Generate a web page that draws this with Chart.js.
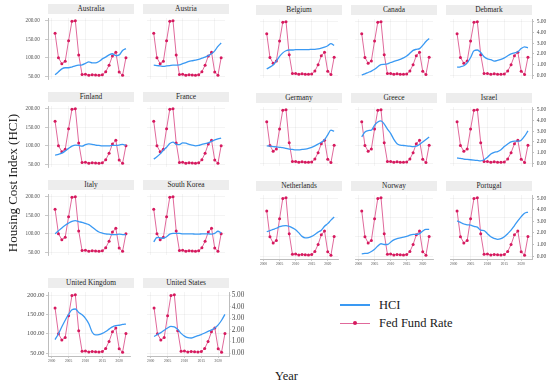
<!DOCTYPE html>
<html>
<head>
<meta charset="utf-8">
<script src="https://cdn.jsdelivr.net/npm/chart.js@4.4.1/dist/chart.umd.min.js"></script>
<style>
  html, body { margin:0; padding:0; background:#ffffff; }
  body { width:550px; height:387px; overflow:hidden; position:relative;
         font-family:'Liberation Serif','Times New Roman',serif; color:#1a1a1a; }
  canvas { position:absolute; }
  .strip { position:absolute; background:#ededed; color:#262626; font-size:7.4px; font-weight:normal;
           line-height:10px; height:10px; text-align:center; white-space:nowrap; overflow:hidden; }
  .txt { position:absolute; white-space:nowrap; }
</style>
</head>
<body>
<script>
// ---------------- data ----------------
const years = [2001,2002,2003,2004,2005,2006,2007,2008,2009,2010,2011,2012,2013,2014,2015,2016,2017,2018,2019,2020,2021,2022];
const fedFundRate = [3.88,1.67,1.13,1.35,3.22,4.97,5.02,1.93,0.16,0.18,0.10,0.14,0.11,0.09,0.13,0.40,1.00,1.83,2.16,0.38,0.08,1.68];

const hciAustralia     = [54,62,70,73,73,75,78,80,81,85,89,86,86,90,97,102,108,111,106,108,120,125];
const hciAustria       = [80,79,78,77,78,79,80,80,81,84,87,90,92,94,96,99,102,106,111,119,131,140];
const hciFinland       = [75,77,80,86,93,99,102,101,99,103,105,104,102,101,100,100,100,101,101,102,104,101];
const hciFrance        = [64,70,78,88,96,106,110,104,103,108,107,104,102,100,101,104,106,108,112,116,119,121];
const hciItaly         = [100,108,116,123,129,134,136,133,131,128,125,118,111,105,102,100,99,98,98,99,98,97];
const hciSouthKorea    = [78,90,89,88,92,99,101,101,101,100,100,100,100,99,99,100,100,100,99,101,107,102];
const hciUnitedKingdom = [85,100,118,135,150,162,164,155,149,140,126,104,97,98,101,106,112,118,121,122,124,125];
const hciUnitedStates  = [93,98,103,109,115,119,118,111,101,94,90,89,92,95,98,102,106,110,115,123,135,150];
const hciBelgium       = [68,73,79,90,103,113,119,121,121,122,122,122,122,122,123,123,124,126,129,133,139,134];
const hciCanada        = [51,54,58,62,67,74,80,81,82,86,89,92,95,99,104,112,120,123,125,134,145,153];
const hciDenmark       = [73,74,77,85,100,119,121,114,102,96,94,90,92,95,99,105,110,113,116,125,130,127];
const hciGermany       = [99,98,97,96,95,94,92,90,89,88,88,89,90,92,95,99,104,109,116,130,143,140];
const hciGreece        = [124,138,142,143,157,166,169,160,146,134,117,105,101,100,99,98,97,98,103,110,117,124];
const hciIsrael        = [65,64,62,61,60,59,58,57,60,67,76,81,83,88,97,104,110,112,112,115,126,141];
const hciNetherlands   = [113,116,119,122,126,128,129,127,123,118,110,101,97,98,101,106,112,117,127,134,143,151];
const hciNorway        = [56,57,58,62,68,76,82,80,80,86,92,95,97,99,101,104,106,106,108,115,119,119];
const hciPortugal      = [141,137,133,131,130,127,125,117,116,108,100,96,93,95,100,108,117,129,141,152,161,164];

const xTickYears = [2000,2005,2010,2015,2020];
const hciTicks   = [50,100,150,200];
const rateTicks  = [0,1,2,3,4,5];

// ---------------- layout ----------------
const FONT = "'Liberation Serif','Times New Roman',serif";
const BLUE = '#3a99f3';
const PINK_LINE = '#e0699b';
const PINK_DOT = '#d6195e';
const AXIS = '#bdbdbd';
const GRID = 'rgba(0,0,0,0.055)';
const TICK_TXT = '#4a4a4a';

const panels = [
  {name:'Australia',      hci:hciAustralia,     x:48,  y:14,  w:86, h:69, L:1},
  {name:'Austria',        hci:hciAustria,       x:143, y:14,  w:86, h:69},
  {name:'Finland',        hci:hciFinland,       x:48,  y:102, w:86, h:69, L:1},
  {name:'France',         hci:hciFrance,        x:143, y:102, w:86, h:69},
  {name:'Italy',          hci:hciItaly,         x:48,  y:190, w:86, h:69, L:1},
  {name:'South Korea',    hci:hciSouthKorea,    x:143, y:190, w:86, h:69},
  {name:'United Kingdom', hci:hciUnitedKingdom, x:48,  y:288, w:86, h:68, L:2, B:1},
  {name:'United States',  hci:hciUnitedStates,  x:143, y:288, w:86, h:68, R:2, B:1},
  {name:'Belgium',        hci:hciBelgium,       x:256, y:15,  w:86, h:67},
  {name:'Canada',         hci:hciCanada,        x:351, y:15,  w:86, h:67},
  {name:'Debmark',        hci:hciDenmark,       x:446, y:15,  w:86, h:67, R:1},
  {name:'Germany',        hci:hciGermany,       x:256, y:103, w:86, h:67},
  {name:'Greece',         hci:hciGreece,        x:351, y:103, w:86, h:67},
  {name:'Israel',         hci:hciIsrael,        x:446, y:103, w:86, h:67, R:1},
  {name:'Netherlands',    hci:hciNetherlands,   x:256, y:191, w:86, h:68, B:1},
  {name:'Norway',         hci:hciNorway,        x:351, y:191, w:86, h:68, B:1},
  {name:'Portugal',       hci:hciPortugal,      x:446, y:191, w:86, h:68, R:1, B:1},
];

function fix(prop, val) {
  return s => { s[prop] = val; s.paddingLeft = 0; s.paddingRight = 0; s.paddingTop = 0; s.paddingBottom = 0; };
}

Chart.defaults.font.family = FONT;

panels.forEach(p => {
  const padL = p.L ? 30 : 0;
  const padR = p.R ? 18 : 0;
  const padB = p.B ? 10 : 0;
  const cv = document.createElement('canvas');
  const W = p.w + padL + padR, H = p.h + padB;
  cv.width = W; cv.height = H;
  cv.style.left = (p.x - padL) + 'px';
  cv.style.top = p.y + 'px';
  cv.style.width = W + 'px';
  cv.style.height = H + 'px';
  document.body.appendChild(cv);

  const strip = document.createElement('div');
  strip.className = 'strip';
  strip.style.left = p.x + 'px';
  strip.style.top = (p.y - 10) + 'px';
  strip.style.width = p.w + 'px';
  strip.textContent = p.name;
  document.body.appendChild(strip);

  const bigL = p.L === 2, bigR = p.R === 2;

  new Chart(cv, {
    type: 'line',
    data: {
      datasets: [
        { label:'HCI', data: years.map((yr,i)=>({x:yr, y:p.hci[i]})), yAxisID:'y',
          borderColor:BLUE, borderWidth:1.3, pointRadius:0, cubicInterpolationMode:'monotone', fill:false },
        { label:'Fed Fund Rate', data: years.map((yr,i)=>({x:yr, y:fedFundRate[i]})), yAxisID:'y1',
          borderColor:PINK_LINE, borderWidth:1, pointRadius:1.5, pointBackgroundColor:PINK_DOT,
          pointBorderWidth:0, tension:0, fill:false }
      ]
    },
    options: {
      responsive:false, animation:false, events:[],
      layout:{ padding:0 },
      plugins:{ legend:{display:false}, tooltip:{enabled:false} },
      scales: {
        x: {
          type:'linear', position:'bottom', min:1998.9, max:2023.2,
          afterBuildTicks: s => { s.ticks = xTickYears.map(v => ({value:v})); },
          afterFit: fix('height', padB),
          ticks:{ display:!!p.B, font:{size:3.6, family:FONT}, color:TICK_TXT, padding:1,
                  maxRotation:0, autoSkip:false, callback: v => String(v) },
          grid:{ color:GRID, lineWidth:0.8, drawTicks:!!p.B, tickLength:2, tickColor:AXIS },
          border:{ display:!!p.B, color:AXIS, width:1 }
        },
        y: {
          type:'linear', position:'left', min:42.5, max:208,
          afterBuildTicks: s => { s.ticks = hciTicks.map(v => ({value:v})); },
          afterFit: fix('width', padL),
          ticks:{ display:!!p.L, font:{size: bigL ? 6.3 : 5.2, family:FONT}, color:TICK_TXT,
                  padding: bigL ? 1.7 : 5.2, callback: v => Number(v).toFixed(2) },
          grid:{ color:GRID, lineWidth:0.8, drawTicks:!!p.L, tickLength: bigL ? 2 : 3, tickColor:AXIS },
          border:{ display:!!p.L, color:AXIS, width:1 }
        },
        y1: {
          type:'linear', position:'right', min:-0.25, max:5.2667,
          afterBuildTicks: s => { s.ticks = rateTicks.map(v => ({value:v})); },
          afterFit: fix('width', padR),
          ticks:{ display:!!p.R, font:{size: bigR ? 7.2 : 5.5, family:FONT}, color:TICK_TXT,
                  padding: bigR ? 1.2 : 2.7, callback: v => Number(v).toFixed(2) },
          grid:{ drawOnChartArea:false, drawTicks:!!p.R, tickLength: bigR ? 1.5 : 2, tickColor:AXIS },
          border:{ display:!!p.R, color:AXIS, width:1 }
        }
      }
    }
  });
});

// ---------------- titles & legend (text) ----------------
function addText(txt, css) {
  const d = document.createElement('div');
  d.className = 'txt';
  d.textContent = txt;
  Object.assign(d.style, css);
  document.body.appendChild(d);
  return d;
}
addText('Housing Cost Index (HCI)', { left:(12.5-100)+'px', top:(183-8)+'px', width:'200px', height:'16px',
  lineHeight:'16px', textAlign:'center', fontSize:'13px', transform:'rotate(-90deg)' });
addText('Year', { left:'275px', top:'370px', fontSize:'12.5px', lineHeight:'13px' });

function addBox(css) { const d = document.createElement('div'); d.style.position='absolute'; Object.assign(d.style, css); document.body.appendChild(d); }
addBox({ left:'340px', top:'304.3px', width:'30px', height:'1.6px', background:BLUE });
addText('HCI', { left:'379px', top:'298.5px', fontSize:'12.5px', lineHeight:'13px' });
addBox({ left:'340px', top:'322.5px', width:'30px', height:'1.6px', background:PINK_LINE });
addBox({ left:'353px', top:'321.3px', width:'4px', height:'4px', borderRadius:'50%', background:PINK_DOT });
addText('Fed Fund Rate', { left:'379px', top:'316.5px', fontSize:'12.5px', lineHeight:'13px' });
</script>
</body>
</html>
